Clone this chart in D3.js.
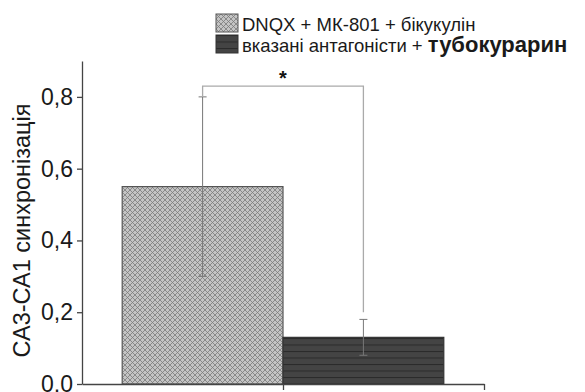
<!DOCTYPE html>
<html>
<head>
<meta charset="utf-8">
<script src="https://cdn.jsdelivr.net/npm/d3@7"></script>
<style>
  html, body { margin: 0; padding: 0; background: #fff; }
  svg { display: block; font-family: "Liberation Sans", Arial, sans-serif; }
</style>
</head>
<body>
<svg id="chart" width="585" height="392"></svg>
<script>
// Groups, mean synchronisation and error half-widths
const groups = ["DNQX + МК-801 + бікукулін", "вказані антагоністи + тубокурарин"];
const positions = [1, 2];
const means = [0.55, 0.13];
const errors = [0.25, 0.05];
const yTicks = [0, 0.2, 0.4, 0.6, 0.8];
const yTickLabels = ["0,0", "0,2", "0,4", "0,6", "0,8"];
const xTicks = [1.5, 2.75];

const svg = d3.select("#chart");

const x = d3.scaleLinear().domain([0.25, 2.75]).range([82, 484]);
const y = d3.scaleLinear().domain([0, 0.9]).range([384, 61]);

// Fill patterns
const defs = svg.append("defs");
const cross = defs.append("pattern")
  .attr("id", "cross").attr("patternUnits", "userSpaceOnUse")
  .attr("width", 5).attr("height", 5);
cross.append("rect").attr("width", 5).attr("height", 5).attr("fill", "#c4c4c4");
cross.append("path").attr("d", "M0,0 L5,5 M5,0 L0,5")
  .attr("stroke", "#7a7a7a").attr("stroke-width", 0.8);

const stripes = defs.append("pattern")
  .attr("id", "stripes").attr("patternUnits", "userSpaceOnUse")
  .attr("width", 6).attr("height", 6.5);
stripes.append("rect").attr("width", 6).attr("height", 6.5).attr("fill", "#444");
stripes.append("path").attr("d", "M0,0.5 L6,0.5")
  .attr("stroke", "#2a2a2a").attr("stroke-width", 1);

const fills = ["url(#cross)", "url(#stripes)"];
const borders = ["#555", "#333"];

// Bars
svg.append("g").selectAll("rect").data(means).join("rect")
  .attr("x", (d, i) => x(positions[i] - 0.5))
  .attr("y", d => y(d))
  .attr("width", (d, i) => x(positions[i] + 0.5) - x(positions[i] - 0.5))
  .attr("height", d => y(0) - y(d))
  .attr("fill", (d, i) => fills[i])
  .attr("stroke", (d, i) => borders[i])
  .attr("stroke-width", 1.2);

// Error bars
const eb = svg.append("g").attr("stroke", "#777").attr("stroke-width", 1).attr("fill", "none");
means.forEach((m, i) => {
  const cx = x(positions[i]);
  eb.append("line").attr("x1", cx).attr("x2", cx)
    .attr("y1", y(m + errors[i])).attr("y2", y(m - errors[i]));
  [m + errors[i], m - errors[i]].forEach(v => {
    eb.append("line").attr("x1", cx - 4).attr("x2", cx + 4)
      .attr("y1", y(v)).attr("y2", y(v));
  });
});

// Significance bracket
const bracketY = 0.83;
svg.append("path")
  .attr("d", `M${x(positions[0])},${y(means[0] + errors[0])} L${x(positions[0])},${y(bracketY)} ` +
             `L${x(positions[1])},${y(bracketY)} L${x(positions[1])},${y(0.2)}`)
  .attr("fill", "none").attr("stroke", "#aaa").attr("stroke-width", 1.3);
svg.append("text")
  .attr("x", (x(positions[0]) + x(positions[1])) / 2).attr("y", y(bracketY) - 1)
  .attr("text-anchor", "middle").attr("font-size", 20).attr("font-weight", "bold")
  .attr("fill", "#111").text("*");

// Axes
const yAxis = d3.axisLeft(y).tickValues(yTicks)
  .tickFormat((d, i) => yTickLabels[i]).tickSize(5).tickPadding(4).tickSizeOuter(0);
const gy = svg.append("g").attr("transform", `translate(${x(0.25)},0)`).call(yAxis);
gy.select(".domain").attr("stroke", "#444").attr("stroke-width", 1.3);
gy.selectAll(".tick line").attr("stroke", "#444").attr("stroke-width", 1.3);
gy.selectAll(".tick text").attr("font-size", 23).attr("fill", "#1a1a1a")
  .attr("font-family", "Liberation Sans, Arial, sans-serif");

const xAxis = d3.axisBottom(x).tickValues(xTicks).tickFormat("").tickSize(6).tickSizeOuter(0);
const gx = svg.append("g").attr("transform", `translate(0,${y(0)})`).call(xAxis);
gx.select(".domain").attr("stroke", "#444").attr("stroke-width", 1.3);
gx.selectAll(".tick line").attr("stroke", "#444").attr("stroke-width", 1.3);

// Y axis title
svg.append("text")
  .attr("transform", `translate(30,${(y(0) + y(0.9)) / 2 + 8}) rotate(-90)`)
  .attr("text-anchor", "middle").attr("font-size", 23.5).attr("fill", "#1a1a1a")
  .text("СА3-СА1 синхронізація");

// Legend
const legend = svg.append("g").attr("transform", "translate(216,14)");
const rowH = 21;
groups.forEach((g, i) => {
  const row = legend.append("g").attr("transform", `translate(0,${i * rowH})`);
  row.append("rect").attr("x", 0).attr("y", 0).attr("width", 22).attr("height", 18)
    .attr("fill", fills[i]).attr("stroke", borders[i]).attr("stroke-width", 1);
  const t = row.append("text").attr("x", 26).attr("y", 17).attr("font-size", 18.5).attr("fill", "#1a1a1a");
  if (i === 0) {
    t.text(g);
  } else {
    const parts = g.split(" + ");
    t.append("tspan").text(parts[0] + " + ");
    t.append("tspan").attr("font-weight", "bold").attr("font-size", 22).text(parts[1]);
  }
});
</script>
</body>
</html>
